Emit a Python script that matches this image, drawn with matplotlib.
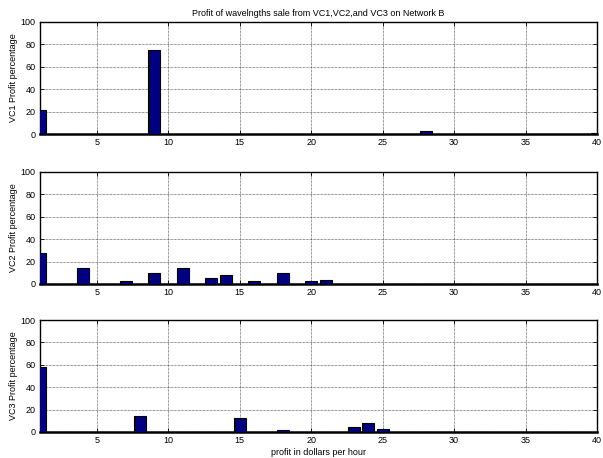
import numpy as np
import matplotlib
matplotlib.use("Agg")
import matplotlib.pyplot as plt

plt.rcParams['font.family'] = ['Liberation Sans', 'DejaVu Sans']

# profit in dollars per hour (1..40)
profit = np.arange(1, 41)

# non-zero shares, everything else 0
vc1 = np.zeros(40)
vc1[[0, 8, 27, 39]] = [22, 75, 3, 1.5]

vc2 = np.zeros(40)
vc2[[0, 3, 6, 8, 10, 12, 13, 15, 17, 19, 20]] = [28, 14, 2.5, 10, 14, 5, 8, 2.5, 10, 2.5, 3.5]

vc3 = np.zeros(40)
vc3[[0, 7, 14, 17, 22, 23, 24]] = [58, 14, 12, 2, 4, 8, 2.5]

series = [vc1, vc2, vc3]
ylabels = ["VC1 Profit percentage", "VC2 Profit percentage", "VC3 Profit percentage"]
xticks = [5, 10, 15, 20, 25, 30, 35, 40]
yticks = [0, 20, 40, 60, 80, 100]

fig = plt.figure(figsize=(6.03, 4.58), dpi=100)
# [left, bottom, width, height] for each panel
boxes = [[0.066, 0.707, 0.924, 0.245],
         [0.066, 0.380, 0.924, 0.245],
         [0.066, 0.057, 0.924, 0.244]]

for i, (vals, lab, box) in enumerate(zip(series, ylabels, boxes)):
    ax = fig.add_axes(box)
    ax.bar(profit, vals, width=0.84, color="#000080", edgecolor="black", linewidth=0.8, zorder=3)
    ax.set_xlim(1, 40)
    ax.set_ylim(0, 100)
    ax.set_xticks(xticks)
    ax.set_yticks(yticks)
    ax.tick_params(direction="in", labelsize=6.5, length=3, width=0.6, top=True, right=True, pad=3)
    ax.grid(True, color="#333333", linestyle=(0, (1, 1)), linewidth=0.5, zorder=0)
    for s in ax.spines.values():
        s.set_linewidth(1.0)
    ax.spines["bottom"].set_linewidth(1.8)
    ax.set_ylabel(lab, fontsize=6.5, labelpad=2)
    if i == 0:
        ax.set_title("Profit of wavelngths sale from VC1,VC2,and VC3 on Network B", fontsize=6.5, pad=4)
    if i == 2:
        ax.set_xlabel("profit in dollars per hour", fontsize=6.5, labelpad=2)

fig.savefig("out.png", dpi=100)
